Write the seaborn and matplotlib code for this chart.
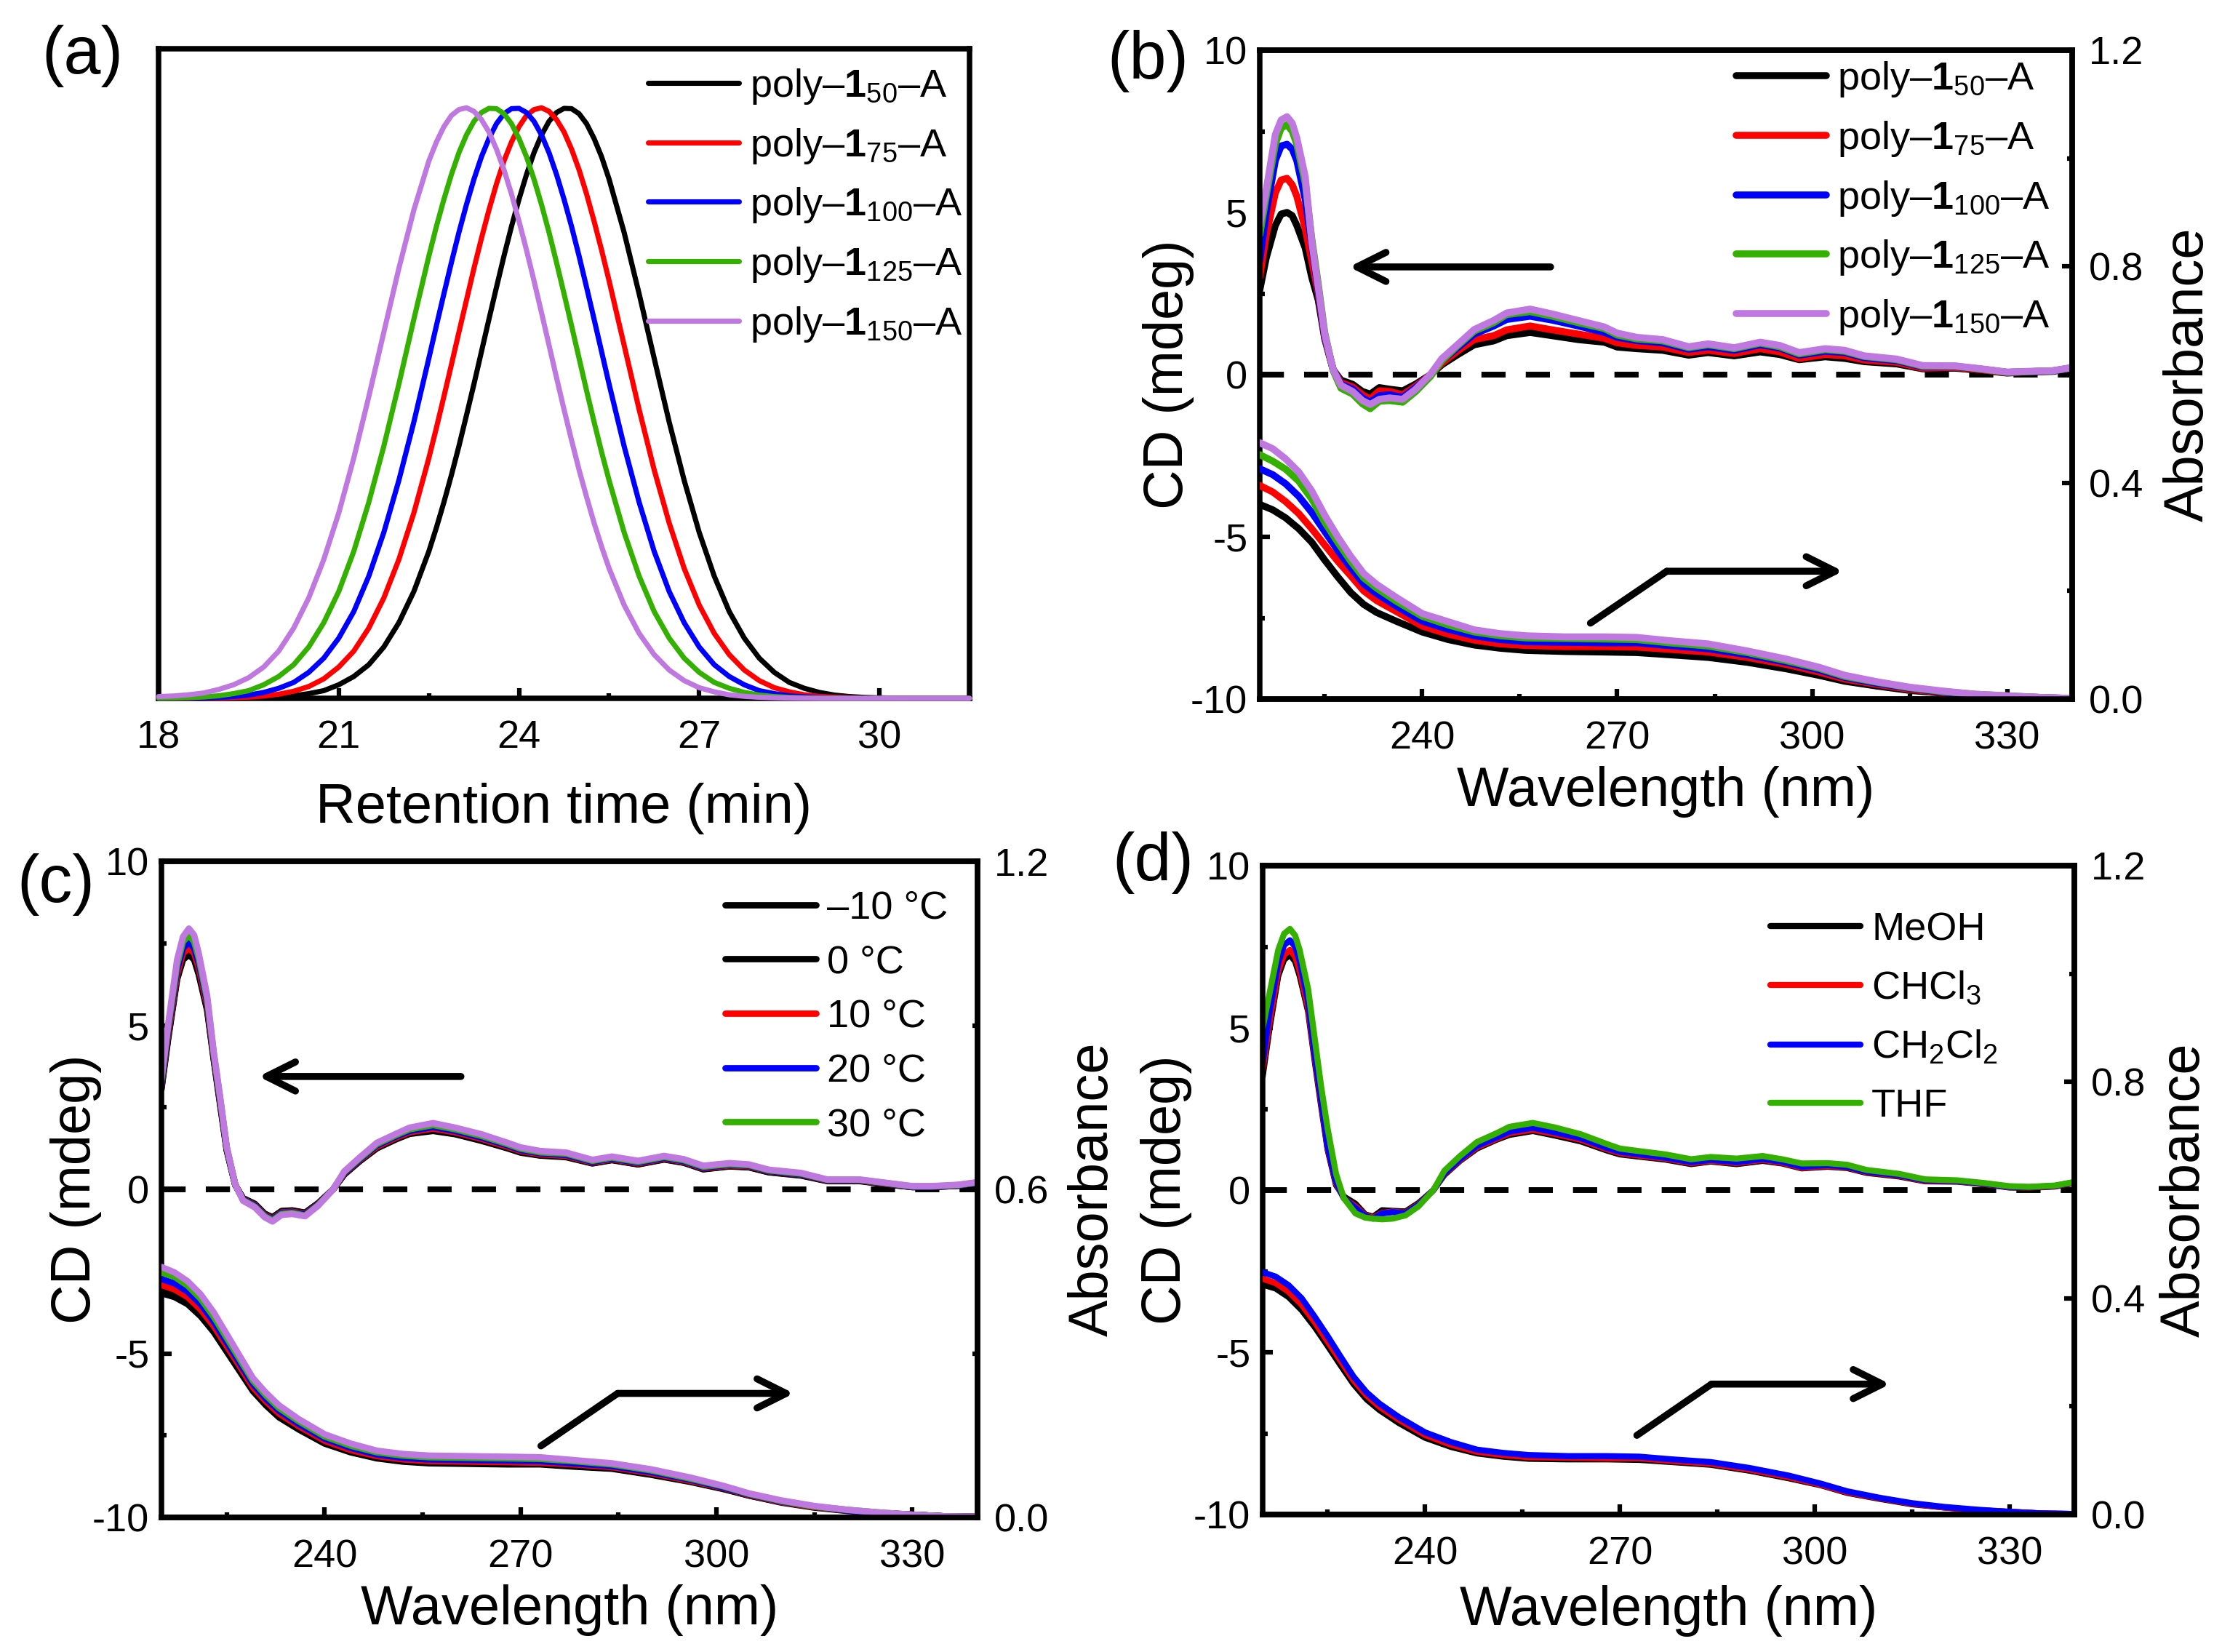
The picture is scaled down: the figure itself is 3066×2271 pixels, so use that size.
import matplotlib
matplotlib.use("Agg")
import matplotlib.pyplot as plt
from matplotlib.ticker import MultipleLocator, NullLocator
import seaborn as sns

BLACK = "#000000"
RED = "#ff0000"
BLUE = "#0000ff"
GREEN = "#33b000"
PURPLE = "#bf78e0"

# (a) retention time traces
rt = [18, 18.25, 18.5, 18.75, 19, 19.25, 19.5, 19.75, 20, 20.25, 20.5, 20.75, 21, 21.25, 21.5, 21.75, 22, 22.25, 22.5,
      22.625, 22.75, 22.875, 23, 23.125, 23.25, 23.375, 23.5, 23.625, 23.75, 23.875, 24, 24.125, 24.25, 24.375, 24.5,
      24.625, 24.75, 24.875, 25, 25.125, 25.25, 25.375, 25.5, 25.75, 26, 26.25, 26.5, 26.75, 27, 27.25,
      27.5, 27.75, 28, 28.25, 28.5, 28.75, 29, 29.25, 29.5, 29.75, 30, 30.25, 30.5, 30.75, 31, 31.25, 31.5]
gpc_50 = [0, 0, 0, 0, .0002, .0003, .0006, .0012, .0024, .0043, .008, .013, .023, .037, .057, .087, .128, .181,
          .249, .289, .332, .378, .427, .479, .532, .587, .642, .696, .749, .799, .845, .887, .924, .954, .977,
          .992, .999, .9985, .990, .973, .948, .917, .879,
          .789, .685, .576, .468, .369, .281, .207, .147, .102, .068, .044, .027, .017, .010, .0055, .003, .0016,
          .0008, .0004, .0002, 0, 0, 0, 0]
gpc_75 = [0, 0, 0, .0003, .0005, .001, .002, .0038, .007, .012, .020, .033, .053, .080, .119, .170, .235, .314,
          .407, .458, .511, .565, .620, .674, .728, .779, .827, .871, .910, .942, .968, .987, .997, 1.0, .994,
          .980, .959, .930, .895, .854, .808, .759, .707,
          .598, .489, .387, .297, .220, .158, .110, .074, .048, .030, .018, .011, .006, .0034, .0018, .001, .0005,
          .0002, 0, 0, 0, 0, 0, 0]
gpc_100 = [0, .0002, .0004, .0008, .0016, .003, .0055, .010, .017, .027, .044, .068, .102, .147, .207, .281, .369,
           .468, .576, .631, .685, .738, .789, .836, .879, .917, .948, .973, .990, .9985, .999, .992, .977, .954, .924,
           .887, .845, .799, .749, .696, .642, .587, .532,
           .427, .332, .249, .181, .128, .087, .057, .037, .023, .013, .008, .0043, .0024, .0012, .0006, .0003, 0,
           0, 0, 0, 0, 0, 0, 0]
gpc_125 = [.0003, .0006, .0012, .0024, .0043, .008, .013, .023, .037, .057, .087, .128, .181, .249, .332, .427, .532,
           .642, .749, .799, .845, .887, .924, .954, .977, .992, .999, .9985, .990, .973, .948, .917, .879, .836, .789,
           .738, .685, .631, .576, .521, .468, .417, .369,
           .281, .207, .147, .102, .068, .044, .027, .017, .010, .0055, .003, .0016, .0008, .0004, .0002, 0, 0,
           0, 0, 0, 0, 0, 0, 0]
gpc_150 = [.003, .004, .006, .009, .015, .023, .035, .053, .080, .119, .170, .235, .314, .407, .511, .620, .728, .827,
           .910, .942, .968, .987, .997, 1.0, .994, .980, .959, .930, .895, .854, .808, .759, .707, .653, .598,
           .543, .489, .437, .387, .341, .297, .257, .220,
           .158, .110, .074, .048, .030, .018, .011, .006, .0034, .0018, .001, .0005, .0002, 0, 0, 0, 0,
           0, 0, 0, 0, 0, 0, 0]

# wavelength grids for the spectra
cd_wl = [215, 216, 217.4, 218.3, 219.2, 220, 220.7, 222, 223, 224, 225, 226.3, 227.5, 229.3, 230.8, 232, 233.4, 235,
         237, 239, 241.3, 243, 245.4, 248, 251, 253, 256.6, 260, 264, 268, 270, 273, 277, 281, 284, 288, 292, 295, 298,
         302, 305, 308, 313, 317, 322, 326, 330, 333, 337, 340]
abs_wl = [215, 217, 219, 221, 223, 225, 227, 229, 231, 233, 236, 240, 244, 248, 252, 256, 262, 268, 273, 278, 284, 290,
          296, 301, 305, 310, 315, 320, 325, 330, 335, 340]

# (b) chain length
b_cd_50 = [2.6, 3.6, 4.6, 4.95, 5.0, 4.9, 4.6, 3.9, 3.0, 2.3, 1.1, .15, -.17, -.3, -.52, -.6, -.4, -.45, -.5, -.29,
           0, .3, .61, .92, 1.04, 1.2, 1.3, 1.2, 1.08, 1.0, .85, .8, .75, .6, .68, .58, .7, .62, .46, .55, .5, .4, .33,
           .18, .2, .13, .05, .08, .1, .2]
b_cd_75 = [3.0, 4.3, 5.6, 6.0, 6.05, 5.85, 5.5, 4.5, 3.5, 2.5, 1.15, .15, -.25, -.38, -.62, -.75, -.5, -.52, -.62, -.35,
           0, .35, .72, 1.08, 1.2, 1.38, 1.5, 1.38, 1.25, 1.12, .98, .9, .85, .68, .75, .65, .8, .7, .5, .62, .58, .45,
           .38, .2, .22, .15, .06, .09, .11, .21]
b_cd_100 = [3.5, 5.0, 6.6, 7.05, 7.1, 6.95, 6.6, 5.4, 4.0, 2.6, 1.2, .15, -.3, -.45, -.72, -.85, -.65, -.62, -.7, -.4,
            0, .42, .82, 1.25, 1.5, 1.7, 1.8, 1.68, 1.5, 1.3, 1.15, 1.05, .98, .78, .86, .75, .92, .82, .6, .72, .68,
            .52, .43, .24, .25, .17, .07, .09, .11, .21]
b_cd_125 = [4.3, 5.5, 7.1, 7.6, 7.7, 7.5, 7.1, 5.9, 4.2, 2.8, 1.3, .12, -.42, -.6, -.9, -1.05, -.82, -.8, -.85, -.52,
            -.05, .42, .88, 1.34, 1.6, 1.85, 1.94, 1.8, 1.6, 1.42, 1.22, 1.1, 1.04, .83, .92, .8, .97, .86, .64, .77,
            .72, .56, .46, .26, .26, .17, .07, .09, .12, .21]
b_cd_150 = [4.6, 5.7, 7.4, 7.85, 7.95, 7.75, 7.3, 6.1, 4.1, 2.7, 1.25, .15, -.33, -.52, -.8, -.92, -.76, -.72, -.76,
            -.45, .02, .49, .92, 1.39, 1.67, 1.9, 2.02, 1.87, 1.67, 1.47, 1.28, 1.15, 1.08, .86, .95, .83, 1.0, .9, .68,
            .8, .75, .58, .48, .28, .27, .18, .08, .1, .12, .22]
b_abs_50 = [.36, .35, .335, .315, .29, .257, .226, .197, .175, .16, .144, .124, .11, .1, .094, .09, .088, .087, .086,
            .082, .077, .068, .056, .044, .033, .024, .016, .011, .007, .004, .002, .001]
b_abs_75 = [.395, .383, .365, .343, .315, .285, .255, .228, .2, .182, .162, .135, .12, .109, .102, .099, .097, .097,
            .096, .092, .087, .077, .064, .05, .037, .027, .018, .012, .008, .005, .002, .001]
b_abs_100 = [.426, .415, .398, .375, .345, .31, .275, .243, .213, .195, .172, .144, .129, .117, .11, .106, .105, .104,
             .104, .099, .093, .082, .068, .054, .04, .029, .02, .013, .008, .005, .003, .001]
b_abs_125 = [.452, .44, .425, .403, .37, .327, .29, .255, .224, .205, .181, .153, .137, .124, .117, .113, .112, .111,
             .11, .104, .098, .086, .071, .057, .042, .031, .021, .014, .009, .006, .003, .001]
b_abs_150 = [.474, .463, .444, .42, .385, .34, .30, .264, .232, .212, .188, .158, .143, .128, .121, .117, .115, .115,
             .114, .108, .102, .089, .074, .059, .044, .032, .022, .015, .009, .006, .003, .001]

# (c) temperature
c_cd_m10 = [3.05, 4.55, 6.4, 7.0, 7.15, 7.0, 6.55, 5.45, 3.95, 2.55, 1.18, .13, -.27, -.44, -.74, -.85, -.66, -.64,
            -.71, -.42, 0, .45, .86, 1.25, 1.53, 1.69, 1.78, 1.68, 1.48, 1.25, 1.12, 1.03, .98, .79, .89, .76, .91, .81,
            .61, .7, .67, .52, .42, .25, .25, .15, .07, .07, .11, .19]
c_cd_0 = [3.1, 4.6, 6.45, 7.05, 7.2, 7.05, 6.6, 5.5, 4.0, 2.6, 1.2, .13, -.28, -.45, -.75, -.87, -.67, -.65, -.72, -.43,
          0, .46, .88, 1.27, 1.55, 1.71, 1.8, 1.7, 1.5, 1.27, 1.14, 1.04, 1.0, .8, .9, .77, .92, .82, .62, .71, .68,
          .53, .43, .26, .26, .16, .07, .07, .11, .19]
c_cd_10 = [3.15, 4.7, 6.55, 7.2, 7.35, 7.2, 6.75, 5.6, 4.05, 2.65, 1.23, .14, -.3, -.48, -.78, -.9, -.7, -.68, -.75,
           -.45, 0, .48, .9, 1.3, 1.58, 1.74, 1.85, 1.74, 1.54, 1.3, 1.17, 1.07, 1.02, .82, .92, .79, .94, .84, .64, .73,
           .7, .55, .45, .27, .27, .17, .08, .08, .12, .2]
c_cd_20 = [3.2, 4.8, 6.7, 7.35, 7.55, 7.35, 6.9, 5.7, 4.1, 2.7, 1.25, .14, -.31, -.5, -.8, -.92, -.72, -.7, -.77, -.46,
           0, .5, .92, 1.34, 1.62, 1.78, 1.9, 1.78, 1.58, 1.34, 1.2, 1.1, 1.05, .84, .94, .81, .96, .86, .66, .75, .72,
           .56, .46, .28, .28, .18, .08, .08, .12, .2]
c_cd_30 = [3.3, 4.9, 6.85, 7.55, 7.75, 7.55, 7.05, 5.8, 4.15, 2.75, 1.28, .15, -.33, -.53, -.82, -.95, -.75, -.72, -.8,
           -.48, 0, .53, .95, 1.38, 1.66, 1.83, 1.96, 1.83, 1.63, 1.38, 1.24, 1.13, 1.09, .87, .97, .84, .99, .89, .69,
           .77, .74, .58, .48, .29, .29, .19, .09, .09, .13, .21]
c_cd_top = [3.4, 5.0, 7.0, 7.7, 7.95, 7.75, 7.2, 5.9, 4.2, 2.8, 1.3, .15, -.35, -.55, -.85, -.98, -.78, -.75, -.82, -.5,
            0, .55, .98, 1.42, 1.7, 1.88, 2.02, 1.88, 1.68, 1.42, 1.28, 1.17, 1.12, .9, 1.0, .87, 1.02, .92, .72, .8,
            .76, .6, .5, .3, .3, .2, .1, .1, .14, .22]
c_abs_m10 = [.41, .403, .39, .368, .339, .303, .267, .231, .205, .183, .161, .135, .119, .108, .102, .099, .098, .097,
             .097, .093, .089, .078, .065, .052, .04, .027, .018, .012, .008, .005, .002, .001]
c_abs_0 = [.414, .407, .394, .372, .342, .306, .27, .233, .207, .185, .163, .136, .12, .109, .103, .1, .099, .098, .098,
           .094, .09, .079, .066, .053, .04, .028, .019, .013, .008, .005, .002, .001]
c_abs_10 = [.425, .417, .403, .38, .35, .313, .276, .238, .212, .19, .167, .14, .123, .112, .106, .103, .102, .101, .1,
            .097, .092, .081, .067, .054, .041, .028, .019, .013, .008, .005, .002, .001]
c_abs_20 = [.436, .428, .413, .39, .358, .32, .282, .244, .217, .195, .171, .144, .127, .115, .109, .106, .105, .104,
            .103, .099, .094, .083, .069, .055, .042, .029, .02, .013, .008, .005, .002, .001]
c_abs_30 = [.448, .44, .424, .4, .367, .328, .289, .25, .223, .2, .176, .148, .131, .119, .113, .11, .109, .108, .107,
            .103, .097, .086, .071, .057, .043, .03, .02, .014, .009, .005, .002, .001]
c_abs_top = [.458, .448, .432, .408, .375, .335, .295, .255, .228, .205, .18, .152, .135, .122, .116, .113, .112, .111,
             .11, .105, .099, .088, .073, .058, .044, .031, .021, .014, .009, .005, .002, .001]

# (d) solvent
d_cd_meoh = [3.5, 4.9, 6.6, 7.1, 7.25, 7.05, 6.6, 5.5, 4.0, 2.6, 1.25, .15, -.2, -.42, -.75, -.82, -.62, -.64, -.66,
             -.4, 0, .47, .9, 1.28, 1.55, 1.7, 1.82, 1.68, 1.5, 1.22, 1.1, 1.03, .94, .8, .88, .8, .9, .82, .67, .72,
             .68, .53, .42, .27, .26, .18, .08, .07, .11, .22]
d_cd_chcl3 = [3.7, 5.1, 6.75, 7.25, 7.4, 7.2, 6.75, 5.6, 4.1, 2.7, 1.3, .2, -.25, -.5, -.78, -.85, -.7, -.66, -.7, -.43,
              0, .5, .92, 1.32, 1.58, 1.75, 1.86, 1.73, 1.55, 1.26, 1.14, 1.06, .97, .83, .9, .83, .93, .84, .69, .74,
              .7, .55, .44, .28, .27, .19, .09, .08, .12, .23]
d_cd_ch2cl2 = [3.9, 5.4, 7.0, 7.55, 7.7, 7.5, 7.05, 5.8, 4.2, 2.8, 1.35, .25, -.25, -.55, -.8, -.88, -.72, -.68, -.72,
               -.45, 0, .52, .95, 1.36, 1.62, 1.8, 1.92, 1.78, 1.6, 1.3, 1.18, 1.1, 1.0, .86, .93, .86, .96, .87, .72,
               .77, .72, .57, .46, .3, .28, .2, .1, .09, .13, .24]
d_cd_thf = [5.0, 6.0, 7.4, 7.9, 8.05, 7.85, 7.4, 6.2, 4.7, 3.2, 1.9, .5, -.25, -.72, -.85, -.88, -.9, -.88, -.78, -.5,
            0, .6, 1.05, 1.48, 1.75, 1.95, 2.07, 1.93, 1.72, 1.42, 1.28, 1.2, 1.1, .95, 1.02, .97, 1.05, .95, .82, .83,
            .78, .62, .5, .33, .3, .22, .12, .1, .14, .25]
d_abs_meoh = [.425, .418, .402, .378, .347, .312, .276, .241, .213, .193, .169, .142, .125, .113, .107, .103, .102,
              .102, .101, .097, .092, .081, .067, .054, .04, .029, .019, .013, .008, .005, .002, .001]
d_abs_chcl3 = [.436, .428, .412, .388, .356, .32, .284, .248, .22, .199, .175, .147, .129, .116, .11, .106, .105, .104,
               .104, .099, .094, .083, .069, .055, .041, .03, .02, .013, .008, .005, .002, .001]
d_abs_ch2cl2 = [.448, .44, .424, .4, .366, .33, .292, .255, .226, .205, .18, .152, .134, .12, .114, .11, .108, .108,
                .107, .102, .097, .086, .072, .057, .043, .031, .021, .014, .009, .005, .002, .001]

chain_labels = ["poly–$\\mathbf{1}_{50}$–A", "poly–$\\mathbf{1}_{75}$–A", "poly–$\\mathbf{1}_{100}$–A",
                "poly–$\\mathbf{1}_{125}$–A", "poly–$\\mathbf{1}_{150}$–A"]
temp_labels = ["–10 °C", "0 °C", "10 °C", "20 °C", "30 °C", None]
solvent_labels = ["MeOH", "CHCl$_3$", "CH$_2$Cl$_2$", "THF"]
chain_colors = [BLACK, RED, BLUE, GREEN, PURPLE]
temp_colors = [BLACK, BLACK, RED, BLUE, GREEN, PURPLE]
solvent_colors = [BLACK, RED, BLUE, GREEN]

W, H = 3066, 2271
sns.set_theme(style="ticks", rc={
    "axes.linewidth": 1.8,
    "axes.unicode_minus": False,
    "mathtext.fontset": "custom",
    "mathtext.default": "regular",
    "mathtext.rm": "Liberation Sans",
    "mathtext.bf": "Liberation Sans:bold",
    "xtick.direction": "in",
    "ytick.direction": "in",
    "axes.edgecolor": "black",
    "xtick.color": "black",
    "ytick.color": "black",
    "text.color": "black",
    "axes.labelcolor": "black",
})
plt.rcParams["font.family"] = ["Liberation Sans", "DejaVu Sans"]

fig = plt.figure(figsize=(W / 300, H / 300), dpi=300)


def make_axes(left, right, top, bottom):
    return fig.add_axes([left / W, 1 - bottom / H, (right - left) / W, (bottom - top) / H])


def style_ticks(ax, axis, major, minor, pad):
    loc = ax.xaxis if axis == "x" else ax.yaxis
    loc.set_major_locator(MultipleLocator(major))
    loc.set_minor_locator(MultipleLocator(minor))
    ax.tick_params(axis=axis, which="major", length=3.4, width=1.5, labelsize=13, pad=pad)
    ax.tick_params(axis=axis, which="minor", length=1.7, width=1.5)


def add_legend(ax, x, y, labelspacing):
    ax.legend(loc="upper left", bbox_to_anchor=(x, y), frameon=False, borderpad=0, borderaxespad=0, fontsize=13,
              handlelength=2.3, handletextpad=0.28, labelspacing=labelspacing)


def add_arrow(ax, tip, tail):
    ax.annotate("", xy=tip, xytext=tail, xycoords="axes fraction", textcoords="axes fraction",
                arrowprops=dict(arrowstyle="->,head_length=9.6,head_width=4.8", mutation_scale=1, lw=2.3, color="black",
                                shrinkA=0, shrinkB=0))


def add_bent_arrow(ax, start, elbow, tip):
    ax.plot([start[0], elbow[0]], [start[1], elbow[1]], transform=ax.transAxes, color="black", lw=2.3)
    add_arrow(ax, tip, elbow)


def spectra_panel(box, cd_series, abs_series, labels, colors, abs_colors, lw, abs_major, label_x):
    ax = make_axes(*box)
    ax.axhline(0, color="black", lw=1.9, dashes=(4.2, 3.5), zorder=1)
    for y, lab, col in zip(cd_series, labels, colors):
        sns.lineplot(x=cd_wl, y=y, color=col, lw=lw, label=lab, ax=ax, estimator=None, sort=False)
    ax.set_xlim(215, 340)
    ax.set_ylim(-10, 10)
    style_ticks(ax, "x", 30, 15, 7)
    style_ticks(ax, "y", 5, 2.5, 4)
    ax.set_xlabel("Wavelength (nm)", fontsize=18.2)
    ax.set_ylabel("CD (mdeg)", fontsize=18.2)
    ax.yaxis.set_label_coords(label_x[0], 0.5)
    ax.xaxis.set_label_coords(0.5, label_x[2])

    twin = ax.twinx()
    for y, col in zip(abs_series, abs_colors):
        sns.lineplot(x=abs_wl, y=y, color=col, lw=lw, ax=twin, estimator=None, sort=False)
    twin.set_ylim(0, 1.2)
    style_ticks(twin, "y", abs_major, abs_major / 2, 5.5)
    twin.set_ylabel("Absorbance", fontsize=18.2, rotation=90)
    twin.yaxis.set_label_coords(label_x[1], 0.5)
    twin.spines["left"].set_visible(False)
    ax.tick_params(axis="x", which="both", top=False)
    for s in ax.spines.values():
        s.set_linewidth(1.8)
    return ax


# panel (a)
ax_a = make_axes(218, 1333, 67, 960)
for y, lab, col in zip([gpc_50, gpc_75, gpc_100, gpc_125, gpc_150], chain_labels, chain_colors):
    sns.lineplot(x=rt, y=y, color=col, lw=1.7, label=lab, ax=ax_a, estimator=None, sort=False, clip_on=False, zorder=3)
ax_a.set_xlim(18, 31.5)
ax_a.set_ylim(0, 1.1)
style_ticks(ax_a, "x", 3, 1.5, 7)
ax_a.yaxis.set_major_locator(NullLocator())
ax_a.set_xlabel("Retention time (min)", fontsize=18.2)
ax_a.xaxis.set_label_coords(0.5, -0.13)
add_legend(ax_a, 0.604, 0.972, 0.51)

# panel (b)
ax_b = spectra_panel((1732, 2849, 69, 961),
                     [b_cd_50, b_cd_75, b_cd_100, b_cd_125, b_cd_150],
                     [b_abs_50, b_abs_75, b_abs_100, b_abs_125, b_abs_150],
                     chain_labels, chain_colors, chain_colors, 2.3, 0.4, (-0.081, 1.112, -0.103))
add_legend(ax_b, 0.586, 0.985, 0.51)
add_arrow(ax_b, (0.110, 0.666), (0.358, 0.666))
add_bent_arrow(ax_b, (0.407, 0.117), (0.501, 0.197), (0.718, 0.197))

# panel (c)
ax_c = spectra_panel((222, 1344, 1184, 2086),
                     [c_cd_m10, c_cd_0, c_cd_10, c_cd_20, c_cd_30, c_cd_top],
                     [c_abs_m10, c_abs_0, c_abs_10, c_abs_20, c_abs_30, c_abs_top],
                     temp_labels, temp_colors, temp_colors, 2.1, 0.6, (-0.073, 1.110, -0.102))
add_legend(ax_c, 0.691, 0.956, 0.455)
add_arrow(ax_c, (0.119, 0.672), (0.367, 0.672))
add_bent_arrow(ax_c, (0.465, 0.109), (0.559, 0.189), (0.775, 0.189))

# panel (d)
ax_d = spectra_panel((1736, 2852, 1190, 2082),
                     [d_cd_meoh, d_cd_chcl3, d_cd_ch2cl2, d_cd_thf],
                     [d_abs_meoh, d_abs_chcl3, d_abs_ch2cl2],
                     solvent_labels, solvent_colors, [BLACK, RED, BLUE], 2.0, 0.4, (-0.087, 1.105, -0.109))
add_legend(ax_d, 0.625, 0.929, 0.555)
add_bent_arrow(ax_d, (0.461, 0.122), (0.553, 0.201), (0.773, 0.201))

for txt, px, py in [("(a)", 113, 77), ("(b)", 1578, 84), ("(c)", 77, 1216), ("(d)", 1585, 1186)]:
    fig.text(px / W, 1 - py / H, txt, fontsize=22, ha="center", va="center")

fig.savefig("out.png", dpi=300)
